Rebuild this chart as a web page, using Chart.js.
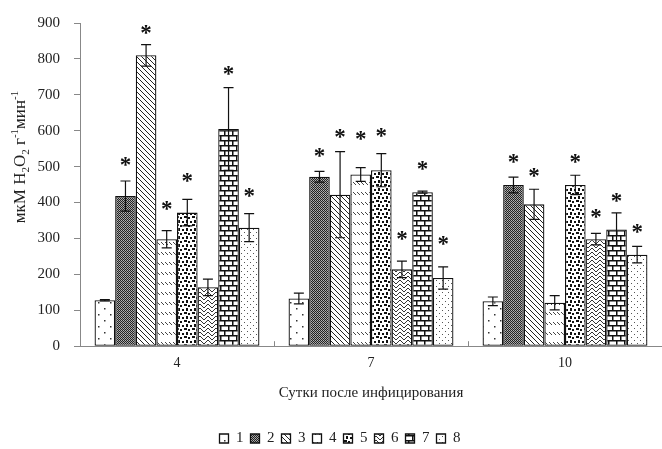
<!DOCTYPE html>
<html><head><meta charset="utf-8">
<script src="https://cdn.jsdelivr.net/npm/chart.js@4"></script>
<style>html,body{margin:0;padding:0;background:#fff}</style>
</head><body><canvas id="c" width="662" height="449"></canvas>
<script>
const categories = ['4', '7', '10'];
const seriesNames = ['1', '2', '3', '4', '5', '6', '7', '8'];
const s1 = [128, 133, 125], e1 = [2, 15, 12];
const s2 = [418, 472, 449], e2 = [42, 15, 22];
const s3 = [810, 422, 395], e3 = [30, 120, 42];
const s4 = [298, 478, 121], e4 = [24, 19, 20];
const s5 = [372, 490, 449], e5 = [37, 46, 27];
const s6 = [164, 214, 298], e6 = [23, 23, 16];
const s7 = [605, 429, 325], e7 = [115, 3, 46];
const s8 = [330, 190, 255], e8 = [39, 31, 23];
// asterisk positions (value units), null = no mark
const st1 = [null, null, null];
const st2 = [515, 539, 523];
const st3 = [883, 592, 485];
const st4 = [393, 588, null];
const st5 = [472, 597, 523];
const st6 = [null, 309, 370];
const st7 = [768, 503, 415];
const st8 = [430, 294, 330];
const yTicks = [0, 100, 200, 300, 400, 500, 600, 700, 800, 900];

const values = [s1, s2, s3, s4, s5, s6, s7, s8];
const errors = [e1, e2, e3, e4, e5, e6, e7, e8];
const stars = [st1, st2, st3, st4, st5, st6, st7, st8];

function tile(w, h, draw) {
  const c = document.createElement('canvas');
  c.width = w; c.height = h;
  const g = c.getContext('2d');
  g.fillStyle = '#fff'; g.fillRect(0, 0, w, h);
  draw(g);
  return document.getElementById('c').getContext('2d').createPattern(c, 'repeat');
}
const patterns = [
  tile(12, 12, g => { g.fillStyle = '#333'; g.fillRect(2, 2, 1.5, 1.5); g.fillRect(8, 8, 1.5, 1.5); }),
  tile(2, 2, g => { g.fillStyle = '#222'; g.fillRect(0, 0, 1, 1); g.fillRect(1, 1, 1, 1); g.fillStyle = '#b4b4b4'; g.fillRect(1, 0, 1, 1); g.fillStyle = '#9a9a9a'; g.fillRect(0, 1, 1, 1); }),
  tile(5, 5, g => { g.fillStyle = '#222'; for (let i = 0; i < 5; i++) g.fillRect(i, i, 1, 1); }),
  tile(12, 10, g => { g.fillStyle = '#444'; for (const x of [1, 5, 9]) for (let i = 0; i < 3; i++) g.fillRect(x + i, 2 + i, 1, 1); }),
  tile(8, 8, g => { g.fillStyle = '#111'; g.fillRect(0, 0, 3, 2); g.fillRect(4, 1, 2, 2); g.fillRect(2, 4, 2, 3); g.fillRect(6, 5, 2, 2); }),
  tile(8, 8, g => { g.strokeStyle = '#333'; g.lineWidth = 1; g.beginPath();
    g.moveTo(0, 0); g.lineTo(4, 4); g.lineTo(8, 0);
    g.moveTo(0, 4); g.lineTo(4, 8); g.lineTo(8, 4);
    g.moveTo(-4, 4); g.lineTo(0, 8); g.moveTo(8, 8); g.lineTo(12, 4); g.stroke(); }),
  tile(16, 10, g => { g.fillStyle = '#111'; g.fillRect(0, 0, 16, 1.5); g.fillRect(0, 5, 16, 1.5);
    g.fillRect(0, 0, 1.5, 5); g.fillRect(8, 0, 1.5, 5); g.fillRect(4, 5, 1.5, 5); g.fillRect(12, 5, 1.5, 5); }),
  tile(6, 6, g => { g.fillStyle = '#555'; g.fillRect(1, 1, 1, 1); g.fillRect(4, 4, 1, 1); })
];

const serif = 'Liberation Serif';

const extras = {
  id: 'extras',
  afterDatasetsDraw(chart) {
    const ctx = chart.ctx, y = chart.scales.y, x = chart.scales.x;
    ctx.save();
    chart.data.datasets.forEach((ds, di) => {
      const meta = chart.getDatasetMeta(di);
      meta.data.forEach((el, i) => {
        const v = values[di][i], e = errors[di][i];
        const yt = y.getPixelForValue(v + e), yb = y.getPixelForValue(v - e);
        ctx.strokeStyle = '#111'; ctx.lineWidth = 1.2;
        ctx.beginPath();
        ctx.moveTo(el.x, yt); ctx.lineTo(el.x, yb);
        ctx.moveTo(el.x - 5, yt); ctx.lineTo(el.x + 5, yt);
        ctx.moveTo(el.x - 5, yb); ctx.lineTo(el.x + 5, yb);
        ctx.stroke();
        const sv = stars[di][i];
        if (sv !== null) {
          ctx.fillStyle = '#111';
          ctx.font = 'bold 23px "' + serif + '"';
          ctx.textAlign = 'center'; ctx.textBaseline = 'alphabetic';
          ctx.fillText('*', el.x, y.getPixelForValue(sv) + 0.47 * 23);
        }
      });
    });
    // small inner ticks at category boundaries
    ctx.strokeStyle = '#888'; ctx.lineWidth = 1;
    const b = chart.chartArea.bottom;
    for (let i = 0; i < categories.length - 1; i++) {
      const xb = Math.round((x.getPixelForTick(i) + x.getPixelForTick(i + 1)) / 2) + 0.5;
      ctx.beginPath(); ctx.moveTo(xb, b); ctx.lineTo(xb, b - 5); ctx.stroke();
    }
    // y axis title with sub/superscripts
    const parts = [['мкМ H', 0], ['2', 1], ['O', 0], ['2', 1], [' г', 0], ['-1', -1], ['мин', 0], ['-1', -1]];
    ctx.translate(21, 157); ctx.rotate(-Math.PI / 2);
    ctx.fillStyle = '#222'; ctx.textBaseline = 'middle'; ctx.textAlign = 'left';
    let total = 0;
    const fontFor = t => (t === 0 ? '17px' : '11px') + ' "' + serif + '"';
    parts.forEach(p => { ctx.font = fontFor(p[1]); total += ctx.measureText(p[0]).width; });
    let cx = -total / 2;
    parts.forEach(p => {
      ctx.font = fontFor(p[1]);
      const dy = p[1] === 1 ? 5 : (p[1] === -1 ? -6 : 0);
      ctx.fillText(p[0], cx, dy);
      cx += ctx.measureText(p[0]).width;
    });
    ctx.restore();
  }
};

new Chart(document.getElementById('c'), {
  type: 'bar',
  data: {
    labels: categories,
    datasets: seriesNames.map((n, i) => ({
      label: n, data: values[i], backgroundColor: patterns[i],
      borderColor: '#111', borderWidth: 1.3, borderSkipped: false,
      barPercentage: 1, categoryPercentage: 0.85
    }))
  },
  options: {
    responsive: false, animation: false, devicePixelRatio: 1,
    layout: { padding: { left: 18, right: 0, top: 22, bottom: -7 } },
    plugins: {
      legend: { position: 'bottom', labels: { boxWidth: 9, boxHeight: 9, padding: 7, color: '#222', font: { family: serif, size: 15 } } },
      tooltip: { enabled: false }
    },
    scales: {
      x: {
        grid: { display: false, drawTicks: false },
        border: { display: true, color: '#888' },
        ticks: { padding: 9, color: '#222', font: { family: serif, size: 14 } },
        title: { display: true, text: 'Сутки после инфицирования', color: '#222', font: { family: serif, size: 15 }, padding: { top: 3, bottom: 22 } }
      },
      y: {
        min: 0, max: 900,
        afterBuildTicks: s => { s.ticks = yTicks.map(v => ({ value: v })); },
        ticks: { color: '#222', padding: 14, font: { family: serif, size: 15 } },
        grid: { drawOnChartArea: false, tickLength: 6, color: '#888' },
        border: { color: '#888' },
        afterFit: s => { s.width = 62; }
      }
    }
  },
  plugins: [extras]
});
</script></body></html>
